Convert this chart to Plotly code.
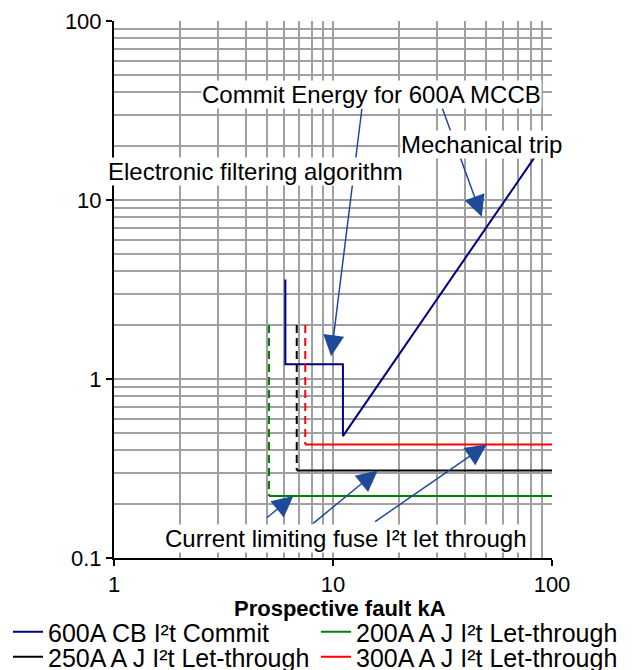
import plotly.graph_objects as go
import math

# ---- data ----
cb_x = [6.06, 6.06, 11.1, 11.1, 100]
cb_y = [3.6, 1.21, 1.21, 0.48, 24]

fuse_names = ["200A A J I²t Let-through",
              "250A A J I²t Let-through",
              "300A A J I²t Let-through"]
fuse_x = [5.1, 6.83, 7.47]          # kA where the fuse starts limiting
fuse_level = [0.222, 0.308, 0.43]   # let-through I2t
fuse_top = [2.0, 2.0, 2.0]
fuse_colors = ["#008000", "#000000", "#FF0000"]
fuse_legend = ["legend2", "legend3", "legend4"]
x_max = 100

x_ticks = [1, 10, 100]
x_ticktext = ["1", "10", "100"]
x_minor = [2, 3, 4, 5, 6, 7, 8, 9, 20, 30, 40, 50, 60, 70, 80, 90]
y_ticks = [0.1, 1, 10, 100]
y_ticktext = ["0.1", "1", "10", "100"]
y_minor = [0.2, 0.3, 0.4, 0.5, 0.6, 0.7, 0.8, 0.9,
           2, 3, 4, 5, 6, 7, 8, 9, 20, 30, 40, 50, 60, 70, 80, 90]

FONT = "Liberation Sans, Arial, sans-serif"
ARROW = "#1F4A9A"
GRID = "#A0A0A0"

# page body adds an 8px offset; plot area on screen: x 114-552, y 21-558
OFF = 8
PL, PT, PW, PH = 114 - OFF, 21 - OFF, 438, 537

def px_x(px):   # screen pixel -> paper x
    return (px - 114) / PW

def px_y(py):   # screen pixel -> paper y
    return (558 - py) / PH

fig = go.Figure()

fig.add_trace(go.Scatter(x=cb_x, y=cb_y, mode="lines",
                         line=dict(color="#000080", width=2),
                         name="600A CB I²t Commit", legend="legend"))
for name, fx, lv, top, col, lg in zip(fuse_names, fuse_x, fuse_level, fuse_top,
                                      fuse_colors, fuse_legend):
    fig.add_trace(go.Scatter(x=[fx, x_max], y=[lv, lv], mode="lines",
                             line=dict(color=col, width=2), name=name,
                             legend=lg))
    fig.add_trace(go.Scatter(x=[fx, fx], y=[top, lv], mode="lines",
                             line=dict(color=col, width=2, dash="8px,5px"),
                             showlegend=False, legend=lg))

def axis(ticks, ticktext, minor, rng):
    return dict(type="log", range=rng, tickmode="array", tickvals=ticks,
                ticktext=ticktext,
                showgrid=True, gridcolor=GRID, gridwidth=1.5,
                showline=True, linecolor="black", linewidth=2,
                ticks="outside", ticklen=6, tickcolor="black", tickwidth=1.5,
                tickfont=dict(family=FONT, size=22, color="black"),
                minor=dict(tickmode="array", tickvals=minor, showgrid=True,
                           gridcolor=GRID, gridwidth=1.5, ticks=""),
                zeroline=False)

def leg(px, py):
    return dict(orientation="h", xanchor="left", yanchor="middle",
                x=px_x(px), y=px_y(py),
                font=dict(family=FONT, size=25, color="black"),
                itemwidth=30, bgcolor="rgba(0,0,0,0)", borderwidth=0,
                tracegroupgap=0)

fig.update_layout(
    width=632, height=670,
    margin=dict(l=PL, r=632 - PL - PW, t=PT, b=670 - PT - PH, autoexpand=False),
    paper_bgcolor="white", plot_bgcolor="white",
    font=dict(family=FONT, size=20, color="black"),
    xaxis=axis(x_ticks, x_ticktext, x_minor, [0, 2]),
    yaxis=axis(y_ticks, y_ticktext, y_minor, [-1, 2]),
    showlegend=True,
    legend=leg(8, 632),
    legend2=leg(316, 632),
    legend3=leg(8, 657),
    legend4=leg(316, 657),
)

# x axis title
fig.add_annotation(x=px_x(340), y=px_y(608), xref="paper", yref="paper",
                   text="<b>Prospective fault kA</b>", showarrow=False,
                   font=dict(family=FONT, size=22, color="black"),
                   xanchor="center", yanchor="middle")

def arrow(xv, yv, ax, ay):
    fig.add_annotation(x=math.log10(xv), y=math.log10(yv), xref="x", yref="y",
                       ax=ax, ay=ay, text="", showarrow=True,
                       arrowhead=2, arrowsize=2.8, arrowwidth=1.5,
                       arrowcolor=ARROW, standoff=0)

# arrows (drawn under the label boxes)
arrow(9.8, 1.34, 31, -249)
arrow(47.8, 8.07, -40, -110)
arrow(6.59, fuse_level[0], -28, 23)
arrow(16.0, fuse_level[1], -66, 54)
arrow(50.3, fuse_level[2], -113, 78)

def label(text, px, py):
    fig.add_annotation(x=px_x(px), y=px_y(py),
                       xref="paper", yref="paper", text=text, showarrow=False,
                       font=dict(family=FONT, size=24, color="black"),
                       bgcolor="white", borderpad=0,
                       xanchor="center", yanchor="middle")

label("Commit Energy for 600A MCCB", 371, 95)
label("Mechanical trip", 481, 144)
label("Electronic filtering algorithm", 255, 171)
label("Current limiting fuse I²t let through", 346, 538)

fig.write_html("out.html")
